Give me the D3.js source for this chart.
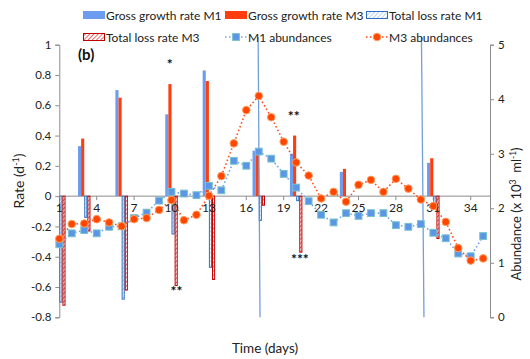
<html>
<head><meta charset="utf-8"></head>
<script src="https://d3js.org/d3.v7.min.js"></script>
<body style="margin:0;background:#fff">
<svg id="chart" width="530" height="359"></svg>
<script>
// ---- data ----
const days = [1,2,3,4,5,6,7,8,9,10,11,12,13,14,15,16,17,18,19,20,21,22,23,24,25,26,27,28,29,30,31,32,33,34,35];
const m1Abund = [1.34,1.54,1.60,1.54,1.66,1.67,1.82,1.92,2.14,2.30,2.27,2.24,2.41,2.33,2.87,2.78,3.04,2.91,2.63,2.38,2.13,1.88,1.74,1.91,1.86,1.91,1.91,1.69,1.66,1.71,1.55,1.45,1.17,1.12,1.49];
const m3Abund = [1.44,1.71,1.72,1.80,1.74,1.67,1.80,1.82,1.97,2.15,1.78,1.88,2.23,2.59,3.19,3.80,4.06,3.67,3.22,2.84,2.60,2.18,2.30,2.12,2.43,2.52,2.30,2.54,2.36,2.16,2.04,1.75,1.27,1.04,1.08];

const rateDays = [1,3,6,10,13,17,20,24,31];
const growthM1 = [0,0.33,0.70,0.54,0.83,0.30,0.28,0.16,0.22];
const growthM3 = [0,0.38,0.65,0.74,0.76,0.28,0.40,0.18,0.25];
const lossM1 = [-0.70,-0.14,-0.68,-0.25,-0.47,-0.16,-0.03,0,-0.05];
const lossM3 = [-0.72,-0.23,-0.62,-0.59,-0.55,-0.06,-0.37,0,-0.28];

// the two long error bars (abundance units)
const errDayTop = [16.95, 30.05];
const errDayBottom = [17.1, 30.25];
const errLow = [0, 0];
const errHigh = [5.14, 5.14];

const dayTicks = [1,4,7,10,13,16,19,22,25,28,31,34];
const rateTicks = [1,0.8,0.6,0.4,0.2,0,-0.2,-0.4,-0.6,-0.8];
const abundTicks = [0,1,2,3,4,5];

// significance marks: [day, rate, text]
const stars = [[9.85,0.84,"*"],[19.8,0.495,"**"],[10.4,-0.66,"**"],[20.3,-0.445,"***"]];

// ---- layout ----
const padL = 59.3, padR = 490, padT = 44.7, padB = 317.3;
const font = "Lato, 'Open Sans', sans-serif";
const svg = d3.select("#chart").style("font-family", font);

const x = d3.scaleLinear().domain([1, 34]).range([padL, 470.7]);
const y = d3.scaleLinear().domain([-0.8, 1]).range([padB, padT]);
const yA = d3.scaleLinear().domain([0, 5]).range([padB, padT]);
const step = x(2) - x(1);
const sub = d3.scaleBand().domain(["g1","g3","l1","l3"]).range([-step/2, step/2]);

// hatch patterns
const defs = svg.append("defs");
function hatch(id, col, bg) {
  const p = defs.append("pattern").attr("id", id).attr("patternUnits","userSpaceOnUse")
    .attr("width", 3).attr("height", 3).attr("patternTransform","rotate(45)");
  p.append("rect").attr("width",3).attr("height",3).attr("fill",bg);
  p.append("line").attr("x1",0).attr("y1",0).attr("x2",0).attr("y2",3)
    .attr("stroke",col).attr("stroke-width",1.4);
}
hatch("hb", "#9cc3ee", "#ffffff");
hatch("hr", "#e0302a", "#ffffff");

const axisCol = "#8c8c8c";

// left axis
svg.append("g").attr("transform","translate(" + padL + ",0)")
  .call(d3.axisLeft(y).tickValues(rateTicks).tickSize(4).tickPadding(4).tickFormat(d => String(d)))
  .call(g => g.selectAll("path,line").attr("stroke", axisCol))
  .call(g => g.selectAll("text").attr("fill","#222").style("font-size","11.5px").style("font-family",font));

// right axis
svg.append("g").attr("transform","translate(" + padR + ",0)")
  .call(d3.axisRight(yA).tickValues(abundTicks).tickSize(4).tickPadding(4).tickFormat(d => String(d)))
  .call(g => g.selectAll("path,line").attr("stroke", axisCol))
  .call(g => g.selectAll("text").attr("fill","#222").style("font-size","11.5px").style("font-family",font));

// x axis at rate 0
svg.append("line").attr("x1", padL).attr("x2", padR).attr("y1", y(0)).attr("y2", y(0))
  .attr("stroke", axisCol);
svg.append("g").selectAll("line").data(dayTicks.slice(1)).enter().append("line")
  .attr("x1", d => x(d)).attr("x2", d => x(d)).attr("y1", y(0)).attr("y2", y(0) + 4)
  .attr("stroke", axisCol);

// bars
const bars = [
  {key:"g1", vals: growthM1, fill:"#6b9cf0", stroke:"none"},
  {key:"g3", vals: growthM3, fill:"#ff3d0d", stroke:"none"},
  {key:"l1", vals: lossM1, fill:"url(#hb)", stroke:"#2f6fbf"},
  {key:"l3", vals: lossM3, fill:"url(#hr)", stroke:"#c00000"}
];
bars.forEach(s => {
  svg.append("g").selectAll("rect").data(rateDays.map((d, i) => [d, s.vals[i]]).filter(d => d[1] !== 0))
    .enter().append("rect")
    .attr("x", d => x(d[0]) + sub(s.key) + (s.stroke === "none" ? 0 : 0.5))
    .attr("width", sub.bandwidth() - (s.stroke === "none" ? 0 : 1))
    .attr("y", d => y(Math.max(0, d[1])))
    .attr("height", d => Math.abs(y(d[1]) - y(0)))
    .attr("fill", s.fill).attr("stroke", s.stroke).attr("stroke-width", 1);
});

// x tick labels, on top of the bars
svg.append("g").selectAll("text").data(dayTicks).enter().append("text")
  .attr("x", d => x(d)).attr("y", y(0) + 16).attr("text-anchor","middle")
  .style("font-size","12px").attr("fill","#222").text(d => d);

// error bar lines
svg.append("g").selectAll("line").data(errDayTop).enter().append("line")
  .attr("x1", (d, i) => x(d)).attr("y1", (d, i) => yA(errHigh[i]))
  .attr("x2", (d, i) => x(errDayBottom[i])).attr("y2", (d, i) => yA(errLow[i]))
  .attr("stroke", "#5b8fd6").attr("stroke-width", 1.3).attr("opacity", 0.85);

// abundance lines
const line = d3.line().x((d, i) => x(days[i])).y(d => yA(d));
svg.append("path").datum(m1Abund).attr("d", line).attr("fill","none")
  .attr("stroke","#6fa3f0").attr("stroke-width",1.6).attr("stroke-dasharray","1.5,2.5");
svg.append("path").datum(m3Abund).attr("d", line).attr("fill","none")
  .attr("stroke","#ff4a14").attr("stroke-width",1.6).attr("stroke-dasharray","1.5,2.5");

svg.append("g").selectAll("rect").data(m1Abund).enter().append("rect")
  .attr("x", (d, i) => x(days[i]) - 3.4).attr("y", d => yA(d) - 3.4)
  .attr("width", 6.8).attr("height", 6.8)
  .attr("fill","#5b96e6").attr("stroke","#79c0cc").attr("stroke-width",1);
svg.append("g").selectAll("circle").data(m3Abund).enter().append("circle")
  .attr("cx", (d, i) => x(days[i])).attr("cy", d => yA(d)).attr("r", 3.8)
  .attr("fill","#ff4500").attr("stroke","#ffa060").attr("stroke-width",1);

// stars
svg.append("g").selectAll("text").data(stars).enter().append("text")
  .attr("x", d => x(d[0])).attr("y", d => y(d[1])).attr("text-anchor","middle")
  .style("font-size","14px").style("font-weight","bold").attr("fill","#111").text(d => d[2]);

// panel tag
svg.append("text").attr("x", 78).attr("y", 60).style("font-size","15px")
  .style("font-weight","bold").attr("fill","#111").text("(b)");

// axis titles
svg.append("text").attr("transform","translate(24,181) rotate(-90)").attr("text-anchor","middle")
  .style("font-size","14px").attr("fill","#222")
  .call(t => { t.append("tspan").text("Rate (d");
               t.append("tspan").attr("dy",-5).style("font-size","9px").text("-1");
               t.append("tspan").attr("dy",5).text(")"); });
svg.append("text").attr("transform","translate(521,214) rotate(-90)").attr("text-anchor","middle")
  .style("font-size","13px").attr("fill","#222")
  .call(t => { t.append("tspan").text("Abundance (x 10");
               t.append("tspan").attr("dy",-5).style("font-size","8.5px").text("3");
               t.append("tspan").attr("dy",5).text("\u00a0\u00a0ml");
               t.append("tspan").attr("dy",-5).style("font-size","8.5px").text("-1");
               t.append("tspan").attr("dy",5).text(")"); });
svg.append("text").attr("x", 265).attr("y", 353).attr("text-anchor","middle")
  .style("font-size","13.5px").attr("fill","#222").text("Time (days)");

// legend
const legNames = ["Gross growth rate M1","Gross growth rate M3","Total loss rate M1",
                  "Total loss rate M3","M1 abundances","M3 abundances"];
const legX = [83, 225, 366, 83, 225, 366];
const legY = [15, 15, 15, 37, 37, 37];
const lg = svg.append("g").style("font-size","12px");
legNames.forEach((n, i) => {
  const gx = legX[i], gy = legY[i];
  if (i < 2) {
    lg.append("rect").attr("x", gx).attr("y", gy - 4).attr("width", 22).attr("height", 8)
      .attr("fill", i === 0 ? "#6b9cf0" : "#ff3d0d");
  } else if (i < 4) {
    lg.append("rect").attr("x", gx + 0.5).attr("y", gy - 3.5).attr("width", 21).attr("height", 7)
      .attr("fill", i === 2 ? "url(#hb)" : "url(#hr)").attr("stroke", i === 2 ? "#2f6fbf" : "#c00000");
  } else {
    const c = i === 4 ? "#6fa3f0" : "#ff4a14";
    lg.append("line").attr("x1", gx).attr("x2", gx + 22).attr("y1", gy).attr("y2", gy)
      .attr("stroke", c).attr("stroke-width", 1.6).attr("stroke-dasharray","1.5,2.5");
    if (i === 4) lg.append("rect").attr("x", gx + 7.6).attr("y", gy - 3.4).attr("width", 6.8).attr("height", 6.8)
      .attr("fill","#5b96e6").attr("stroke","#79c0cc");
    else lg.append("circle").attr("cx", gx + 11).attr("cy", gy).attr("r", 3.8)
      .attr("fill","#ff4500").attr("stroke","#ffa060");
  }
  lg.append("text").attr("x", gx + 23).attr("y", gy + 4.5).attr("fill","#222").text(n);
});
</script>
</body>
</html>
